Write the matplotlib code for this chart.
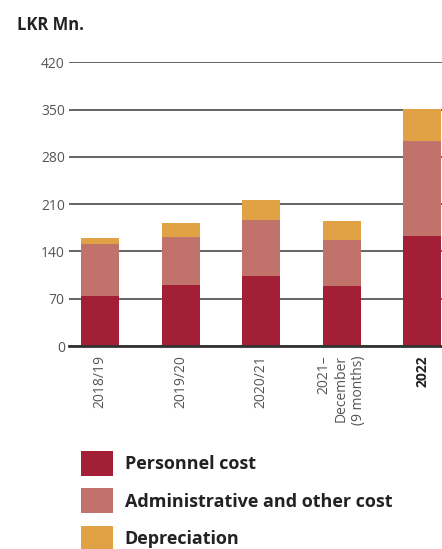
import numpy as np
import matplotlib.pyplot as plt

plt.rcParams['font.family'] = ['Open Sans', 'DejaVu Sans']

periods = ["2018/19", "2019/20", "2020/21", "2021–\nDecember\n(9 months)", "2022"]
personnel = [74, 90, 104, 89, 163]
admin = [77, 71, 83, 68, 141]
depreciation = [9, 21, 30, 28, 47]

col_pers = "#A31F36"
col_admin = "#C0726B"
col_dep = "#E0A245"

fig = plt.figure(figsize=(4.42, 5.49), dpi=100)
ax = fig.add_axes([69/442, 203/549, 1 - 69/442, (346 - 62.5)/549])

x = np.arange(len(periods))
w = 0.472
pers = np.array(personnel)
adm = np.array(admin)
dep = np.array(depreciation)

b1 = ax.bar(x, pers, w, color=col_pers, label="Personnel cost")
b2 = ax.bar(x, adm, w, bottom=pers, color=col_admin, label="Administrative and other cost")
b3 = ax.bar(x, dep, w, bottom=pers + adm, color=col_dep, label="Depreciation")

ax.set_xlim(-0.385, 4.248)
ax.set_ylim(0, 420)
ax.set_yticks(np.arange(0, 421, 70))
ax.set_axisbelow(True)
ax.yaxis.grid(True, color="#4a4a4a", linewidth=1.2)

for s in ["top", "right", "left"]:
    ax.spines[s].set_visible(False)
ax.spines["bottom"].set_color("#333333")
ax.spines["bottom"].set_linewidth(2)

ax.tick_params(axis="y", length=0, pad=3, labelsize=10, labelcolor="#555555")
ax.tick_params(axis="x", length=0, pad=6.5, labelsize=10, labelcolor="#555555")
ax.set_xticks(x)
ax.set_xticklabels(periods, rotation=90, va="top", ha="center", multialignment="right")
last = ax.get_xticklabels()[-1]
last.set_fontweight("bold")
last.set_color("#222222")

fig.text(17/442, 1 - 25/549, "LKR Mn.", fontsize=12, fontweight="bold",
         color="#222222", va="center", ha="left")

fig.legend(handles=[b1, b2, b3], loc="upper left", bbox_to_anchor=(81/442, 1 - 451/549),
           frameon=False, borderpad=0, borderaxespad=0,
           handlelength=1.77, handleheight=1.753, handletextpad=0.66,
           labelspacing=0.69, prop={"size": 13, "weight": "bold"}, labelcolor="#222222")

fig.savefig("out.png", dpi=100)
